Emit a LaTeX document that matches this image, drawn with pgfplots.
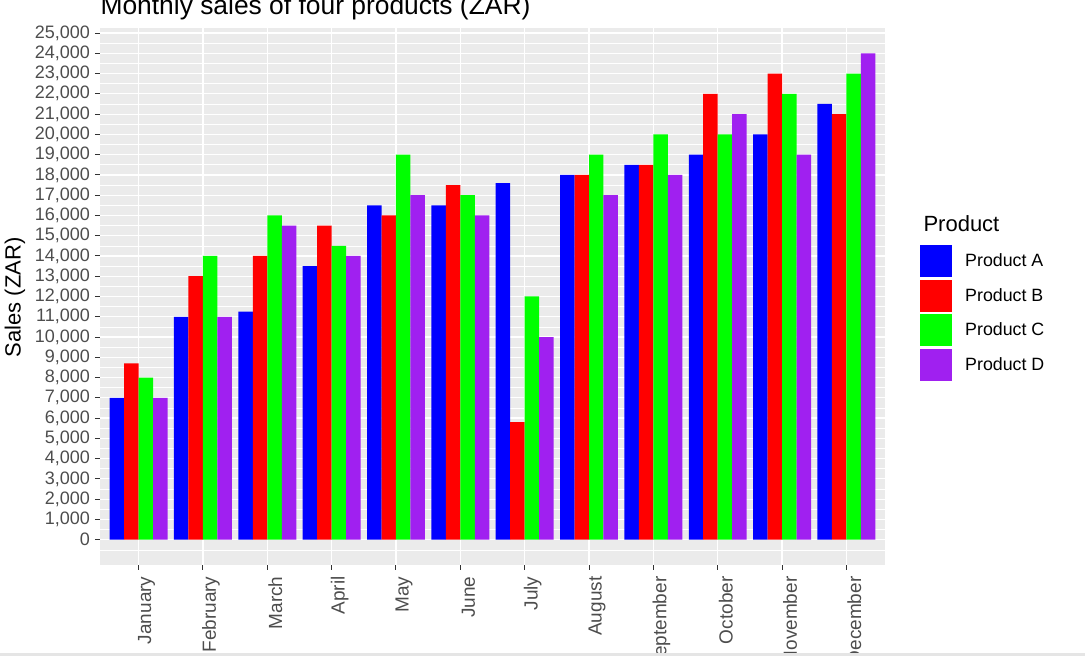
\documentclass[border=0pt]{standalone}
\usepackage{fontspec}
\setmainfont{Liberation Sans}
\usepackage{pgfplots}
\pgfplotsset{compat=1.18}
\definecolor{panel}{HTML}{EBEBEB}
\definecolor{ticklab}{HTML}{4D4D4D}
\definecolor{tickcol}{HTML}{333333}
\definecolor{pA}{RGB}{0,0,255}
\definecolor{pB}{RGB}{255,0,0}
\definecolor{pC}{RGB}{0,255,0}
\definecolor{pD}{RGB}{160,32,240}
\pgfplotsset{myleg/.style={legend image code/.code={\fill[##1] (0pt,-16pt) rectangle (32pt,16pt);}}}
\begin{document}
\begin{tikzpicture}
\begin{axis}[
  at={(100pt,91pt)}, anchor=south west,
  scale only axis, width=785pt, height=537pt,
  xmin=-0.6, xmax=11.6, ymin=-1250, ymax=25250,
  ybar=0pt, bar width=0.225,
  axis background/.style={fill=panel},
  axis line style={draw=none},
  xtick={0,1,2,3,4,5,6,7,8,9,10,11},
  xticklabels={January,February,March,April,May,June,July,August,September,October,November,December},
  ytick={0,1000,2000,3000,4000,5000,6000,7000,8000,9000,10000,11000,12000,13000,14000,15000,16000,17000,18000,19000,20000,21000,22000,23000,24000,25000},
  minor ytick={-500,500,1500,2500,3500,4500,5500,6500,7500,8500,9500,10500,11500,12500,13500,14500,15500,16500,17500,18500,19500,20500,21500,22500,23500,24500},
  grid=both,
  major grid style={white, line width=1.2pt},
  minor grid style={white, line width=0.6pt},
  tick align=outside, major tick length=5pt, minor tick length=0pt,
  tick pos=left,
  tick style={color=tickcol, line width=1pt},
  /pgf/number format/assume math mode=true,
  /pgf/number format/1000 sep={,},
  scaled y ticks=false,
  yticklabel style={font=\fontsize{18}{21}\selectfont, color=ticklab, xshift=-1.5pt},
  xticklabel shift=3pt,
  xticklabel style={font=\fontsize{19}{22}\selectfont, color=ticklab, xshift=8pt, rotate=90, anchor=east},
  legend style={draw=none, fill=none, at={(1.0446,0.5959)}, anchor=north west,
    inner sep=0pt, row sep=2.5pt, nodes={inner sep=0pt},
    font=\fontsize{17.8}{20}\selectfont,
    /tikz/every odd column/.append style={column sep=13pt}},
  legend cell align=left,
]
\addplot[fill=pA, draw=none, myleg] coordinates {(0,7000) (1,11000) (2,11250) (3,13500) (4,16500) (5,16500) (6,17600) (7,18000) (8,18500) (9,19000) (10,20000) (11,21500)};
\addplot[fill=pB, draw=none, myleg] coordinates {(0,8700) (1,13000) (2,14000) (3,15500) (4,16000) (5,17500) (6,5800) (7,18000) (8,18500) (9,22000) (10,23000) (11,21000)};
\addplot[fill=pC, draw=none, myleg] coordinates {(0,8000) (1,14000) (2,16000) (3,14500) (4,19000) (5,17000) (6,12000) (7,19000) (8,20000) (9,20000) (10,22000) (11,23000)};
\addplot[fill=pD, draw=none, myleg] coordinates {(0,7000) (1,11000) (2,15500) (3,14000) (4,17000) (5,16000) (6,10000) (7,17000) (8,18000) (9,21000) (10,19000) (11,24000)};
\legend{Product A, Product B, Product C, Product D}
\end{axis}
\node[anchor=base west, font=\fontsize{26.4}{30}\selectfont] at (97pt,641pt) {Monthly sales of four products (ZAR)};
\node[anchor=base west, font=\fontsize{22}{26}\selectfont] at (920pt,424.3pt) {Product};
\node[rotate=90, font=\fontsize{22}{26}\selectfont] at (15pt,358.5pt) {Sales (ZAR)};
\fill[gray!20] (0pt,0pt) rectangle (1085pt,3pt);
\pgfresetboundingbox
\path[use as bounding box] (0pt,0pt) rectangle (1085pt,656pt);
\end{tikzpicture}
\end{document}
